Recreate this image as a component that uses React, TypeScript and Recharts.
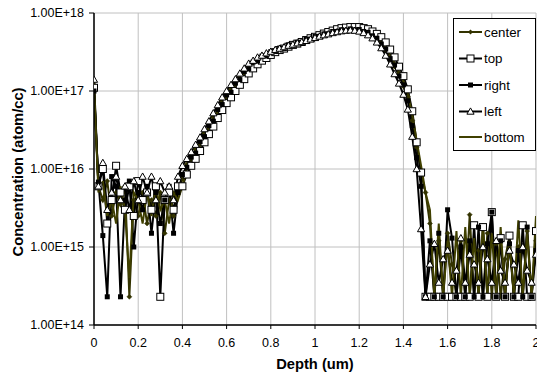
import React from 'react';
import { LineChart, Line, XAxis, YAxis, CartesianGrid, Legend } from 'recharts';

const FONT = '"Liberation Sans", Arial, sans-serif';

const depth = [
  0, 0.02, 0.04, 0.06, 0.08, 0.1, 0.12, 0.14, 0.16, 0.18,
  0.2, 0.22, 0.24, 0.26, 0.28, 0.3, 0.32, 0.34, 0.36, 0.38,
  0.4, 0.42, 0.44, 0.46, 0.48, 0.5, 0.52, 0.54, 0.56, 0.58,
  0.6, 0.62, 0.64, 0.66, 0.68, 0.7, 0.72, 0.74, 0.76, 0.78,
  0.8, 0.82, 0.84, 0.86, 0.88, 0.9, 0.92, 0.94, 0.96, 0.98,
  1, 1.02, 1.04, 1.06, 1.08, 1.1, 1.12, 1.14, 1.16, 1.18,
  1.2, 1.22, 1.24, 1.26, 1.28, 1.3, 1.32, 1.34, 1.36, 1.38,
  1.4, 1.42, 1.44, 1.46, 1.48, 1.5, 1.52, 1.54, 1.56, 1.58,
  1.6, 1.62, 1.64, 1.66, 1.68, 1.7, 1.72, 1.74, 1.76, 1.78,
  1.8, 1.82, 1.84, 1.86, 1.88, 1.9, 1.92, 1.94, 1.96, 1.98,
  2,
];

const center = [
  1.2e17, 6e15, 4e15, 7e15, 2.5e15, 5e15, 3.5e15, 6e15, 2.3e14, 4e15,
  2.5e15, 5e15, 2e15, 4e15, 2.5e15, 5e15, 1.5e15, 4e15, 2.5e15, 5e15,
  7.5e15, 1.15e16, 1.3e16, 1.8e16, 2.05e16, 2.9e16, 3.3e16, 4.6e16, 5.3e16, 7.4e16,
  8.2e16, 1.06e17, 1.16e17, 1.52e17, 1.65e17, 2.1e17, 2.2e17, 2.6e17, 2.65e17, 3e17,
  3.05e17, 3.4e17, 3.4e17, 3.7e17, 3.75e17, 4.05e17, 4.05e17, 4.4e17, 4.45e17, 4.8e17,
  4.85e17, 5.2e17, 5.25e17, 5.6e17, 5.65e17, 6e17, 5.95e17, 6.2e17, 6.1e17, 6.25e17,
  6e17, 5.95e17, 5.5e17, 5.3e17, 4.6e17, 4.2e17, 3.3e17, 2.8e17, 2.05e17, 1.7e17,
  1.15e17, 8.5e16, 4.2e16, 1.9e16, 9e15, 5e15, 2e15, 2.3e14, 1.2e15, 2.3e14,
  1.5e15, 6e14, 2.3e14, 1.2e15, 2.3e14, 2.6e15, 2.3e14, 9e14, 2.3e14, 1.5e15,
  2.3e14, 1.1e15, 2.3e14, 7e14, 1.4e15, 2.3e14, 1e15, 2.3e14, 1.6e15, 2.3e14,
  1.2e15,
];

const top = [
  1.1e17, 6e15, 1e16, 2e15, 4e15, 1.1e16, 5e15, 3e15, 6e15, 2.5e15,
  7e15, 4e15, 5e15, 3e15, 6e15, 2.3e14, 4e15, 5e15, 3e15, 6e15,
  6e15, 8.5e15, 1.1e16, 1.35e16, 1.7e16, 2.2e16, 2.8e16, 3.5e16, 4.5e16, 5.7e16,
  7e16, 8.3e16, 1e17, 1.2e17, 1.42e17, 1.68e17, 1.95e17, 2.2e17, 2.45e17, 2.65e17,
  2.9e17, 3.15e17, 3.35e17, 3.5e17, 3.7e17, 3.9e17, 4.05e17, 4.25e17, 4.5e17, 4.75e17,
  4.95e17, 5.2e17, 5.45e17, 5.7e17, 5.95e17, 6.2e17, 6.4e17, 6.5e17, 6.6e17, 6.6e17,
  6.6e17, 6.4e17, 6.2e17, 5.8e17, 5.4e17, 4.9e17, 4.2e17, 3.4e17, 2.7e17, 2.05e17,
  1.55e17, 1.05e17, 5.5e16, 2.2e16, 9e15, 2.3e14, 2.3e14, 2.3e14, 2.3e14, 2.3e14,
  2.3e14, 2.3e14, 2.3e14, 2.3e14, 2.3e14, 2.3e14, 1.9e15, 2.3e14, 1.8e15, 2.3e14,
  2.8e15, 2.3e14, 1.3e15, 2.3e14, 1.4e15, 2.3e14, 2.3e14, 1.9e15, 2.3e14, 2.3e14,
  1.6e15,
];

const right = [
  1e17, 6.8e15, 1.4e15, 2.3e14, 8e15, 6e15, 2.3e14, 4e15, 7e15, 1e15,
  5e15, 3e15, 6e15, 1.5e15, 5e15, 2e15, 4e15, 6e15, 1.5e15, 5e15,
  8.5e15, 1.05e16, 1.42e16, 1.6e16, 2.25e16, 2.6e16, 3.6e16, 4.1e16, 5.8e16, 6.7e16,
  8.9e16, 9.6e16, 1.26e17, 1.4e17, 1.78e17, 1.92e17, 2.35e17, 2.42e17, 2.8e17, 2.82e17,
  3.2e17, 3.22e17, 3.55e17, 3.52e17, 3.9e17, 3.88e17, 4.2e17, 4.22e17, 4.6e17, 4.62e17,
  5e17, 5.02e17, 5.4e17, 5.42e17, 5.8e17, 5.8e17, 6.1e17, 6e17, 6.25e17, 6.1e17,
  6.15e17, 5.8e17, 5.65e17, 5.1e17, 4.75e17, 4e17, 3.45e17, 2.6e17, 2.15e17, 1.55e17,
  1.2e17, 7.5e16, 3.6e16, 1.4e16, 6e15, 2.3e14, 1.2e15, 2.3e14, 1.5e15, 2.3e14,
  3e15, 1.3e15, 2.3e14, 1e15, 2.3e14, 1.2e15, 2.3e14, 1.8e15, 2.3e14, 1.1e15,
  2.8e15, 2.3e14, 1.2e15, 2.3e14, 1.1e15, 2.3e14, 9e14, 2.3e14, 1.8e15, 2.3e14,
  9e14,
];

const left = [
  1.4e17, 6e15, 1.2e16, 3e15, 5e15, 8e15, 4e15, 6e15, 3e15, 7e15,
  4e15, 8e15, 5e15, 8e15, 4e15, 7e15, 5e15, 6e15, 4e15, 8e15,
  1.1e16, 1.35e16, 1.65e16, 2.05e16, 2.55e16, 3.25e16, 4.1e16, 5.2e16, 6.6e16, 8.3e16,
  1e17, 1.2e17, 1.42e17, 1.68e17, 1.95e17, 2.25e17, 2.45e17, 2.7e17, 2.85e17, 3.05e17,
  3.2e17, 3.38e17, 3.5e17, 3.65e17, 3.82e17, 3.95e17, 4.1e17, 4.25e17, 4.4e17, 4.6e17,
  4.8e17, 5e17, 5.2e17, 5.35e17, 5.55e17, 5.7e17, 5.85e17, 5.95e17, 6e17, 5.95e17,
  5.8e17, 5.55e17, 5.2e17, 4.75e17, 4.2e17, 3.55e17, 2.85e17, 2.2e17, 1.65e17, 1.25e17,
  9e16, 5.8e16, 2.6e16, 1e16, 1.7e15, 2.3e14, 6e14, 1.1e15, 3.5e14, 7e14,
  9e14, 3.5e14, 5e14, 1.3e15, 3.5e14, 8e14, 6e14, 3.5e14, 1e15, 7e14,
  3.5e14, 1.2e15, 5e14, 3.5e14, 9e14, 6e14, 3.5e14, 1e15, 5e14, 3.5e14,
  8e14,
];

const bottom = [
  1.2e17, 5e15, 7e15, 2.5e15, 4e15, 2e15, 6e15, 3e15, 4e14, 5e15,
  4e15, 2e15, 5e15, 2.5e15, 6e15, 3e15, 4e15, 2e15, 5e15, 4e15,
  6e15, 1e16, 1.25e16, 1.75e16, 2e16, 2.8e16, 3.2e16, 4.4e16, 5.2e16, 7.2e16,
  8.3e16, 1.03e17, 1.18e17, 1.48e17, 1.68e17, 2.05e17, 2.2e17, 2.55e17, 2.68e17, 2.95e17,
  3.08e17, 3.35e17, 3.42e17, 3.65e17, 3.78e17, 4e17, 4.08e17, 4.35e17, 4.48e17, 4.75e17,
  4.88e17, 5.15e17, 5.28e17, 5.55e17, 5.68e17, 5.95e17, 6.02e17, 6.15e17, 6.2e17, 6.2e17,
  6.1e17, 6e17, 5.7e17, 5.3e17, 4.8e17, 4.2e17, 3.6e17, 2.9e17, 2.3e17, 1.75e17,
  1.35e17, 9.5e16, 5e16, 2.3e16, 1.1e16, 5e15, 3e15, 2.3e14, 2e15, 2.3e14,
  1.2e15, 2.3e14, 1.6e15, 2.3e14, 1.8e15, 2.3e14, 1.3e15, 2.3e14, 2e15, 2.3e14,
  1.5e15, 2.3e14, 1.8e15, 2.3e14, 1.2e15, 2.3e14, 2.2e15, 2.3e14, 1.5e15, 2.3e14,
  2.5e15,
];

const seriesNames = ['center', 'top', 'right', 'left', 'bottom'];
const yTicks = [1e14, 1e15, 1e16, 1e17, 1e18];
const xTicks = [0, 0.2, 0.4, 0.6, 0.8, 1, 1.2, 1.4, 1.6, 1.8, 2];

const data = depth.map((d, i) => ({
  depth: d,
  center: center[i],
  top: top[i],
  right: right[i],
  left: left[i],
  bottom: bottom[i],
}));

const OLIVE = '#333300';
const OLIVE2 = '#404000';

const diamondPath = (cx: number, cy: number, r: number) =>
  `M${cx},${cy - r}L${cx + r},${cy}L${cx},${cy + r}L${cx - r},${cy}Z`;
const triPath = (cx: number, cy: number, r: number) =>
  `M${cx},${cy - r}L${cx + r},${cy + r * 0.75}L${cx - r},${cy + r * 0.75}Z`;

const DiamondDot = (p: any) =>
  p.cx == null ? null : <path key={`c${p.index}`} d={diamondPath(p.cx, p.cy, 2.5)} fill={OLIVE} stroke={OLIVE} strokeWidth={0.5} />;
const OpenSquareDot = (p: any) =>
  p.cx == null ? null : <rect key={`t${p.index}`} x={p.cx - 3.5} y={p.cy - 3.5} width={7} height={7} fill="#fff" stroke="#000" strokeWidth={1} />;
const FilledSquareDot = (p: any) =>
  p.cx == null ? null : <rect key={`r${p.index}`} x={p.cx - 2.5} y={p.cy - 2.5} width={5} height={5} fill="#000" />;
const TriangleDot = (p: any) =>
  p.cx == null ? null : <path key={`l${p.index}`} d={triPath(p.cx, p.cy, 3.6)} fill="#fff" stroke="#000" strokeWidth={1} />;

const fmtY = (v: number) => v.toExponential(2).toUpperCase();
const fmtX = (v: number) => String(Math.round(v * 10) / 10);

const LegendBox = () => {
  const rows = [32, 58.5, 85, 111.5, 137];
  const x1 = 6;
  const x2 = 29;
  const mx = (x1 + x2) / 2;
  return (
    <svg width={84} height={134} style={{ display: 'block' }}>
      <rect x={0.5} y={0.5} width={82} height={132} fill="#fff" stroke="#000" strokeWidth={1} />
      {seriesNames.map((n, i) => {
        const y = rows[i] - 18;
        const color = i === 0 ? OLIVE : i === 4 ? OLIVE2 : '#000';
        return (
          <g key={n}>
            <line x1={x1} y1={y} x2={x2} y2={y} stroke={color} strokeWidth={2} />
            {i === 0 && <path d={diamondPath(mx, y, 2.5)} fill={OLIVE} />}
            {i === 1 && <rect x={mx - 3.5} y={y - 3.5} width={7} height={7} fill="#fff" stroke="#000" />}
            {i === 2 && <rect x={mx - 2.5} y={y - 2.5} width={5} height={5} fill="#000" />}
            {i === 3 && <path d={triPath(mx, y, 3.6)} fill="#fff" stroke="#000" />}
            <text x={31} y={y} dy="0.35em" fontSize={13.3} fontFamily={FONT} fill="#000">{n}</text>
          </g>
        );
      })}
    </svg>
  );
};

export default function App() {
  return (
    <div style={{ position: 'absolute', left: 0, top: 0 }}>
      <LineChart width={537} height={378} data={data} margin={{ top: 13, right: 1, bottom: 0, left: 0 }}>
        <CartesianGrid stroke="#c0c0c0" strokeWidth={1} />
        <XAxis
          dataKey="depth"
          type="number"
          domain={[0, 2]}
          ticks={xTicks}
          interval={0}
          tickFormatter={fmtX}
          height={53}
          tickSize={4}
          tickMargin={9.5}
          axisLine={{ stroke: '#000', strokeWidth: 1.5 }}
          tickLine={{ stroke: '#000' }}
          tick={{ fontSize: 12.5, fill: '#000', fontFamily: FONT }}
          allowDataOverflow
          label={{
            content: () => (
              <text x={315} y={369} textAnchor="middle" fontSize={14.7} fontWeight="bold" fontFamily={FONT} fill="#000">
                Depth (um)
              </text>
            ),
          }}
        />
        <YAxis
          scale="log"
          domain={[1e14, 1e18]}
          ticks={yTicks}
          interval={0}
          allowDataOverflow
          tickFormatter={fmtY}
          width={94}
          tickSize={5}
          tickMargin={5}
          axisLine={{ stroke: '#000', strokeWidth: 1.5 }}
          tickLine={{ stroke: '#000' }}
          tick={{ fontSize: 12.5, fill: '#000', fontFamily: FONT }}
          label={{
            content: () => (
              <text
                x={23}
                y={172}
                textAnchor="middle"
                transform="rotate(-90, 23, 172)"
                fontSize={14.7}
                fontWeight="bold"
                fontFamily={FONT}
                fill="#000"
              >
                Concentration (atom/cc)
              </text>
            ),
          }}
        />
        <Legend
          layout="vertical"
          align="center"
          verticalAlign="middle"
          wrapperStyle={{ left: 453, top: 18, width: 84, height: 134 }}
          content={() => <LegendBox />}
        />
        <Line dataKey="center" name="center" type="linear" stroke={OLIVE} strokeWidth={2} dot={DiamondDot} isAnimationActive={false} />
        <Line dataKey="top" name="top" type="linear" stroke="#000" strokeWidth={2} dot={OpenSquareDot} isAnimationActive={false} />
        <Line dataKey="right" name="right" type="linear" stroke="#000" strokeWidth={2} dot={FilledSquareDot} isAnimationActive={false} />
        <Line dataKey="left" name="left" type="linear" stroke="#000" strokeWidth={2} dot={TriangleDot} isAnimationActive={false} />
        <Line dataKey="bottom" name="bottom" type="linear" stroke={OLIVE2} strokeWidth={2} dot={false} isAnimationActive={false} />
      </LineChart>
    </div>
  );
}
